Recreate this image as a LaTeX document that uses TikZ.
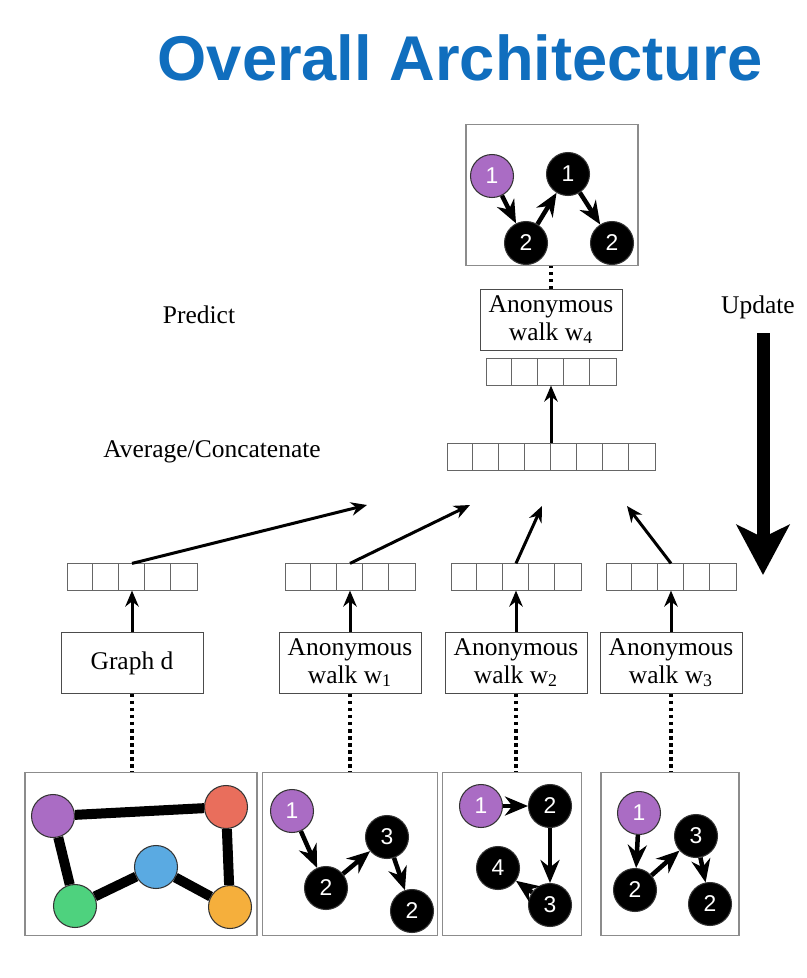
\documentclass[tikz,border=0pt]{standalone}
\usepackage{fontspec}
\setmainfont{Liberation Serif}
\newfontfamily\numfont{Liberation Sans}
\newfontfamily\titlefont{Liberation Sans}
\usepackage{tikz}
\usetikzlibrary{arrows.meta}

\definecolor{titleblue}{RGB}{16,110,190}
\definecolor{gpurple}{RGB}{170,108,196}
\definecolor{gred}{RGB}{233,110,92}
\definecolor{gblue}{RGB}{90,170,226}
\definecolor{ggreen}{RGB}{78,210,126}
\definecolor{gorange}{RGB}{245,175,60}

% embedding vector: name, x, y, number of cells
\newcommand{\embed}[4]{%
  \node[cellrow, minimum width=#4*0.52cm] (#1) at (#2,#3) {};
  \foreach \cel in {2,...,#4}
    \draw[cellline] ([xshift=(\cel-1)*0.52cm]#1.south west) -- ([xshift=(\cel-1)*0.52cm]#1.north west);
}

\begin{document}
\begin{tikzpicture}[x=0.02cm, y=-0.02cm,
                    txt/.style={font=\fontsize{14.5}{15.5}\selectfont},
                    tbox/.style={draw=black!70, txt, minimum width=2.84cm,
                                 minimum height=1.22cm, align=center, inner sep=1pt},
                    frame/.style={draw=black!45, line width=0.8pt},
                    cellrow/.style={draw=black!60, minimum height=0.53cm, inner sep=0pt},
                    cellline/.style={draw=black!60},
                    vert/.style={circle, draw=black!80, line width=0.6pt, minimum size=0.86cm,
                                 inner sep=0pt, text=white,
                                 font=\numfont\fontsize{13}{13}\selectfont},
                    wv/.style={vert, fill=black},
                    sv/.style={vert, fill=gpurple},
                    walk/.style={-{Stealth[length=0.46cm,width=0.38cm]}, line width=0.09cm},
                    up/.style={-{Stealth[length=0.32cm,width=0.27cm]}, line width=0.06cm},
                    link/.style={line width=0.2cm},
                    dots/.style={dotted, line width=2pt}]
    \useasboundingbox[fill=white] (0,0) rectangle (806,978);

    \node[anchor=base, text=titleblue,
          font=\titlefont\bfseries\fontsize{36}{40}\selectfont] (title) at (460,80) {Overall Architecture};

    % labels
    \node[txt] (predict) at (199,315) {Predict};
    \node[txt] (avg) at (212,452) {Average/Concatenate};
    \node[txt] (update) at (758,307) {Update};

    % text boxes
    \node[tbox] (bd) at (132,663) {Graph d};
    \node[tbox] (b1) at (350,663) {Anonymous\\walk w\textsubscript{1}};
    \node[tbox] (b2) at (516,663) {Anonymous\\walk w\textsubscript{2}};
    \node[tbox] (b3) at (671,663) {Anonymous\\walk w\textsubscript{3}};
    \node[tbox] (b4) at (551,320) {Anonymous\\walk w\textsubscript{4}};

    % vectors
    \embed{vd}{132}{577}{5}
    \embed{v1}{350}{577}{5}
    \embed{v2}{516}{577}{5}
    \embed{v3}{671}{577}{5}
    \embed{cat}{551}{457}{8}
    \embed{v4}{551}{372}{5}

    % graph frames
    \node[frame, minimum width=4.64cm, minimum height=3.26cm] (gd) at (141,854) {};
    \node[frame, minimum width=3.5cm, minimum height=3.26cm] (g1) at (350,854) {};
    \node[frame, minimum width=2.78cm, minimum height=3.26cm] (g2) at (512,854) {};
    \node[frame, minimum width=2.76cm, minimum height=3.26cm] (g3) at (670,854) {};
    \node[frame, minimum width=3.44cm, minimum height=2.82cm] (g4) at (552,195) {};

    % graph d
    \node[vert, fill=gpurple] (pu) at (53,816) {};
    \node[vert, fill=gred] (re) at (226,807) {};
    \node[vert, fill=gblue] (bl) at (156,867) {};
    \node[vert, fill=ggreen] (gr) at (75,906) {};
    \node[vert, fill=gorange] (or) at (230,907) {};
    \draw[link] (pu) -- (re) (pu) -- (gr) (gr) -- (bl) (bl) -- (or) (re) -- (or);

    % walk w1
    \node[sv] (a1) at (292,811) {1};
    \node[wv] (a2) at (326,888) {2};
    \node[wv] (a3) at (387,837) {3};
    \node[wv] (a4) at (412,911) {2};
    % walk w2
    \node[sv] (c1) at (481,806) {1};
    \node[wv] (c2) at (550,806) {2};
    \node[wv] (c3) at (550,905) {3};
    \node[wv] (c4) at (498,868) {4};
    % walk w3
    \node[sv] (e1) at (639,813) {1};
    \node[wv] (e2) at (635,890) {2};
    \node[wv] (e3) at (696,836) {3};
    \node[wv] (e4) at (710,904) {2};
    % walk w4
    \node[sv] (f1) at (492,176) {1};
    \node[wv] (f2) at (526,243) {2};
    \node[wv] (f3) at (568,174) {1};
    \node[wv] (f4) at (612,243) {2};

    \path
        (a1) edge [walk] (a2)
        (a2) edge [walk] (a3)
        (a3) edge [walk] (a4)

        (c1) edge [walk] (c2)
        (c2) edge [walk] (c3)
        (c3) edge [walk] (c4)

        (e1) edge [walk] (e2)
        (e2) edge [walk] (e3)
        (e3) edge [walk] (e4)

        (f1) edge [walk] (f2)
        (f2) edge [walk] (f3)
        (f3) edge [walk] (f4)
        ;

    % dotted links
    \draw[dots] (bd) -- (bd |- gd.north);
    \draw[dots] (b1) -- (b1 |- g1.north);
    \draw[dots] (b2) -- (b2 |- g2.north);
    \draw[dots] (b3) -- (b3 |- g3.north);
    \draw[dots] (b4) -- (b4 |- g4.south);

    % embedding arrows
    \path
        (bd) edge [up] (vd)
        (b1) edge [up] (v1)
        (b2) edge [up] (v2)
        (b3) edge [up] (v3)
        (cat) edge [up] (v4)
        ;

    \coordinate (t1) at (367,505);
    \coordinate (t2) at (470,505);
    \coordinate (t3) at (542,506);
    \coordinate (t4) at (627,506);
    \draw[up] (vd.north) -- (t1);
    \draw[up] (v1.north) -- (t2);
    \draw[up] (v2.north) -- (t3);
    \draw[up] (v3.north) -- (t4);

    % update
    \coordinate (updTop) at (763,333);
    \coordinate (updTip) at (763,575);
    \draw[line width=0.26cm, -{Stealth[length=1cm, width=1.05cm, inset=0.25cm]}] (updTop) -- (updTip);
\end{tikzpicture}
\end{document}
